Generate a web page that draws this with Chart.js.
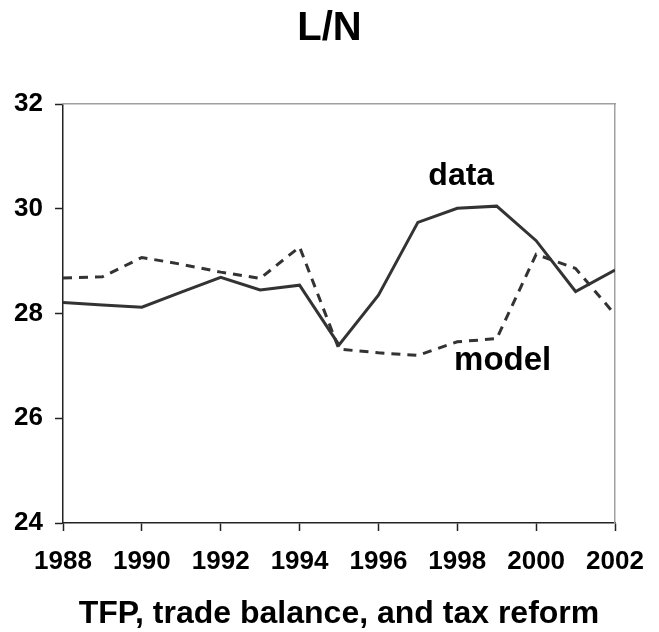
<!DOCTYPE html>
<html>
<head>
<meta charset="utf-8">
<script src="https://cdn.jsdelivr.net/npm/chart.js@4"></script>
<style>
  html, body { margin: 0; padding: 0; background: #fff; }
  #wrap { width: 659px; height: 632px; }
</style>
</head>
<body>
<div id="wrap"><canvas id="lnChart" width="659" height="632"></canvas></div>
<script>
const years = [1988, 1989, 1990, 1991, 1992, 1993, 1994, 1995, 1996, 1997, 1998, 1999, 2000, 2001, 2002];
const dataSeries = [28.21, 28.16, 28.12, 28.41, 28.69, 28.45, 28.54, 27.4, 28.35, 29.74, 30.01, 30.05, 29.39, 28.42, 28.83];
const modelSeries = [28.68, 28.7, 29.07, 28.94, 28.79, 28.67, 29.27, 27.32, 27.25, 27.2, 27.46, 27.52, 29.13, 28.86, 27.98];
const yTicks = [24, 26, 28, 30, 32];
const xTicks = [1988, 1990, 1992, 1994, 1996, 1998, 2000, 2002];

// series names written inside the plot, placed in data units
const seriesLabels = ["data", "model"];
const labelYears = [1998.1, 1999.15];
const labelValues = [30.62, 27.09];

const fontFamily = "'Liberation Sans', Arial, sans-serif";
const lineColor = "#333333";
const axisColor = "#222222";
const frameColor = "#a0a0a0";

const toPoints = (values) => years.map((year, i) => ({ x: year, y: values[i] }));

const seriesLabelPlugin = {
  id: "seriesLabels",
  afterDatasetsDraw(chart) {
    const { ctx, scales } = chart;
    ctx.save();
    ctx.fillStyle = "#000";
    ctx.textAlign = "center";
    ctx.textBaseline = "middle";
    seriesLabels.forEach((text, i) => {
      ctx.font = `bold ${i === 0 ? 32 : 33}px ${fontFamily}`;
      ctx.fillText(
        text,
        scales.x.getPixelForValue(labelYears[i]),
        scales.y.getPixelForValue(labelValues[i]),
      );
    });
    ctx.restore();
  },
};

// empty axes that only draw the light frame on top and right
const frameAxis = (position, fit) => ({
  type: "linear",
  position,
  display: true,
  ticks: { display: false },
  grid: { display: false, drawTicks: false },
  border: { display: true, color: frameColor, width: 1.5 },
  afterFit: fit,
});

new Chart(document.getElementById("lnChart"), {
  type: "line",
  data: {
    datasets: [
      {
        label: "data",
        data: toPoints(dataSeries),
        borderColor: lineColor,
        borderWidth: 3,
        pointRadius: 0,
        tension: 0,
        xAxisID: "x",
        yAxisID: "y",
      },
      {
        label: "model",
        data: toPoints(modelSeries),
        borderColor: lineColor,
        borderWidth: 3,
        borderDash: [9, 7],
        pointRadius: 0,
        tension: 0,
        xAxisID: "x",
        yAxisID: "y",
      },
    ],
  },
  options: {
    responsive: false,
    animation: false,
    layout: { padding: 0 },
    scales: {
      x: {
        type: "linear",
        position: "bottom",
        min: years[0],
        max: years[years.length - 1],
        afterBuildTicks: (scale) => {
          scale.ticks = xTicks.map((value) => ({ value }));
        },
        ticks: {
          color: "#000",
          font: { family: fontFamily, size: 26, weight: "bold" },
          padding: 15,
          maxRotation: 0,
          autoSkip: false,
          callback: (value) => String(value),
        },
        grid: {
          drawOnChartArea: false,
          drawTicks: true,
          tickLength: 8,
          tickColor: axisColor,
          tickWidth: 1.5,
        },
        border: { display: true, color: axisColor, width: 1.5 },
        title: {
          display: true,
          text: "TFP, trade balance, and tax reform",
          color: "#000",
          font: { family: fontFamily, size: 32, weight: "bold", lineHeight: 1.1 },
          padding: { top: 0, bottom: 0 },
        },
        afterFit: (scale) => {
          scale.height = 109;
        },
      },
      y: {
        type: "linear",
        position: "left",
        min: yTicks[0],
        max: yTicks[yTicks.length - 1],
        afterBuildTicks: (scale) => {
          scale.ticks = yTicks.map((value) => ({ value }));
        },
        ticks: {
          color: "#000",
          font: { family: fontFamily, size: 26, weight: "bold" },
          padding: 12,
        },
        grid: {
          drawOnChartArea: false,
          drawTicks: true,
          tickLength: 8,
          tickColor: axisColor,
          tickWidth: 1.5,
        },
        border: { display: true, color: axisColor, width: 1.5 },
        afterFit: (scale) => {
          scale.width = 63;
        },
      },
      xTop: frameAxis("top", (scale) => {
        scale.height = 0;
      }),
      yRight: frameAxis("right", (scale) => {
        scale.width = 44;
      }),
    },
    plugins: {
      legend: { display: false },
      tooltip: { enabled: false },
      title: {
        display: true,
        text: "L/N",
        color: "#000",
        font: { family: fontFamily, size: 40, weight: "bold" },
        padding: { top: 5, bottom: 51 },
      },
    },
  },
  plugins: [seriesLabelPlugin],
});
</script>
</body>
</html>
